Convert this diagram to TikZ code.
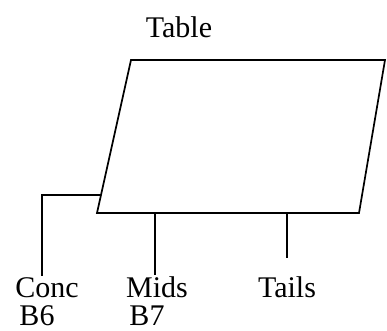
\documentclass[tikz,border=0pt]{standalone}
\usepackage{fontspec}
\setmainfont{Liberation Serif}
\usepackage{tikz}

\begin{document}
\begin{tikzpicture}[x=1pt, y=-1pt, line width=1.7pt,
		lbl/.style={font=\fontsize{30}{32}\selectfont, inner sep=0pt, anchor=base}]
		\useasboundingbox (0, 0) rectangle (387, 330);
	
		% the table
		\coordinate (tl) at (131, 60);
		\coordinate (tr) at (385, 60);
		\coordinate (br) at (359, 213);
		\coordinate (bl) at (97, 213);
		\draw (tl) -- (tr) -- (br) -- (bl) -- cycle;
		
		\node[lbl] (table) at (179, 37) {Table};
		
		\node[lbl] (conc) at (47, 297) {Conc};
		\node[lbl] (b6) at (37, 325) {B6};
		\node[lbl] (mids) at (157, 297) {Mids};
		\node[lbl] (b7) at (147, 325) {B7};
		\node[lbl] (tails) at (287, 297) {Tails};
		
		% branches
		\coordinate (cj) at (101, 195);
		\coordinate (mj) at (155, 213);
		\coordinate (tj) at (287, 213);
		\coordinate (tend) at (287, 258);
		
		\draw (cj) -| ([xshift=-5pt]conc.north);
		\draw (mj) -- (mj |- mids.north);
		\draw (tj) -- (tend);
	\end{tikzpicture}
\end{document}
